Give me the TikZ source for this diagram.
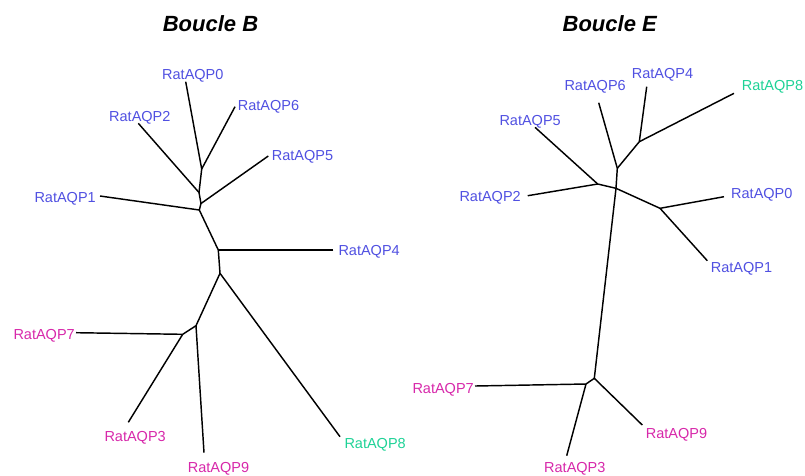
\documentclass[tikz,border=0pt]{standalone}
\usepackage{fontspec}
\setmainfont{Liberation Sans}
\definecolor{aqpblue}{RGB}{80,80,225}
\definecolor{aqpmag}{RGB}{215,40,170}
\definecolor{aqpgreen}{RGB}{30,210,150}
\begin{document}
\begin{tikzpicture}[x=1pt,y=-1pt,
  lbl/.style={inner sep=0pt,anchor=base west,font=\fontsize{14.5}{16}\selectfont},
  blbl/.style={lbl,text=aqpblue},
  mlbl/.style={lbl,text=aqpmag},
  glbl/.style={lbl,text=aqpgreen},
  ttl/.style={inner sep=0pt,anchor=base,font=\fontsize{22}{24}\selectfont\bfseries\itshape},
  br/.style={draw=black,line width=1.45pt,line join=round}]
\useasboundingbox (0,0) rectangle (805,475);
% titles
\node[ttl] (tB) at (210.5,31.7) {Boucle B};
\node[ttl] (tE) at (609.7,31.7) {Boucle E};
% ---------- Boucle B ----------
\node[blbl] (b0) at (162,79.3) {RatAQP0};
\node[blbl] (b6) at (237.7,110.7) {RatAQP6};
\node[blbl] (b2) at (109,121.7) {RatAQP2};
\node[blbl] (b5) at (271.7,160) {RatAQP5};
\node[blbl] (b1) at (34.3,202.3) {RatAQP1};
\node[blbl] (b4) at (338.3,255.3) {RatAQP4};
\node[mlbl] (b7) at (13.3,339.3) {RatAQP7};
\node[mlbl] (b3) at (104.3,441) {RatAQP3};
\node[mlbl] (b9) at (187.7,472.3) {RatAQP9};
\node[glbl] (b8) at (344.3,448.3) {RatAQP8};
% leaf ends
\coordinate (lb0) at (185.7,81.7);
\coordinate (lb6) at (235,106.7);
\coordinate (lb2) at (138.3,123.3);
\coordinate (lb5) at (268.3,156);
\coordinate (lb1) at (100,196);
\coordinate (lb4) at (333.3,250);
\coordinate (lb7) at (76,332.7);
\coordinate (lb3) at (128.3,422.3);
\coordinate (lb9) at (204,452.7);
\coordinate (lb8) at (340,436.7);
% internal nodes
\coordinate (nb1) at (201.7,169);
\coordinate (nb2) at (199,192.5);
\coordinate (nb3) at (201,203.5);
\coordinate (nb4) at (199.3,210);
\coordinate (nb5) at (218.3,250);
\coordinate (nb6) at (220,273.3);
\coordinate (nb7) at (196,325.7);
\coordinate (nb8) at (182.7,334.3);
\draw[br] (lb0) -- (nb1) -- (nb2) -- (nb3) -- (nb4) -- (nb5) -- (nb6) -- (nb7) -- (nb8);
\draw[br] (lb6) -- (nb1);
\draw[br] (lb2) -- (nb2);
\draw[br] (lb5) -- (nb3);
\draw[br] (lb1) -- (nb4);
\draw[br] (lb4) -- (nb5);
\draw[br] (lb8) -- (nb6);
\draw[br] (lb9) -- (nb7);
\draw[br] (lb7) -- (nb8);
\draw[br] (lb3) -- (nb8);
% ---------- Boucle E ----------
\node[blbl] (e4) at (631.7,78.3) {RatAQP4};
\node[blbl] (e6) at (564.3,90) {RatAQP6};
\node[glbl] (e8) at (741.7,90) {RatAQP8};
\node[blbl] (e5) at (499.3,125) {RatAQP5};
\node[blbl] (e2) at (459.3,201.7) {RatAQP2};
\node[blbl] (e0) at (731,198.3) {RatAQP0};
\node[blbl] (e1) at (710.7,272.3) {RatAQP1};
\node[mlbl] (e7) at (412.3,393.3) {RatAQP7};
\node[mlbl] (e9) at (645.7,438.3) {RatAQP9};
\node[mlbl] (e3) at (544,472.7) {RatAQP3};
% leaf ends
\coordinate (le4) at (646.7,86.7);
\coordinate (le8) at (734,93.3);
\coordinate (le6) at (598.7,102.7);
\coordinate (le5) at (535,127.3);
\coordinate (le2) at (527.7,195.7);
\coordinate (le0) at (724,196.7);
\coordinate (le1) at (707.3,260.7);
\coordinate (le7) at (475,386);
\coordinate (le9) at (642.3,425);
\coordinate (le3) at (566.7,455.7);
% internal nodes
\coordinate (me1) at (639.3,141.7);
\coordinate (me2) at (617.3,168.3);
\coordinate (me3) at (616,188.3);
\coordinate (me4) at (597.7,184);
\coordinate (me5) at (660,208.3);
\coordinate (me6) at (594.3,378.3);
\coordinate (me7) at (586,384);
\draw[br] (le4) -- (me1) -- (me2) -- (me3) -- (me6) -- (me7);
\draw[br] (le8) -- (me1);
\draw[br] (le6) -- (me2);
\draw[br] (le5) -- (me4) -- (me3);
\draw[br] (le2) -- (me4);
\draw[br] (me3) -- (me5) -- (le0);
\draw[br] (me5) -- (le1);
\draw[br] (le9) -- (me6);
\draw[br] (le7) -- (me7) -- (le3);
\end{tikzpicture}
\end{document}
